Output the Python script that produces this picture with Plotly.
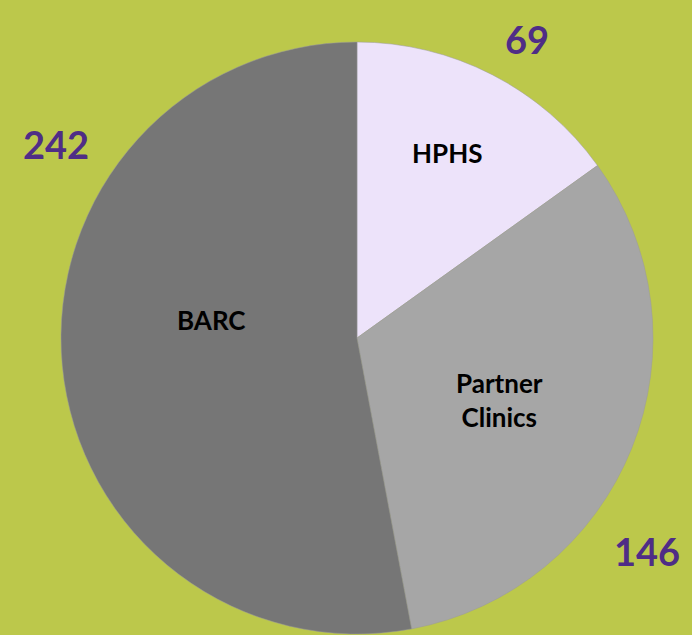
import plotly.graph_objects as go

labels = ["HPHS", "Partner Clinics", "BARC"]
display_labels = ["HPHS", "Partner<br>Clinics", "BARC"]
values = [69, 146, 242]
colors = ["#EDE3FA", "#A6A6A6", "#767676"]

W, H = 692, 635
cx, cy, R = 357, 338, 296

fig = go.Figure(go.Pie(
    labels=labels,
    values=values,
    sort=False,
    direction="clockwise",
    rotation=0,
    marker=dict(colors=colors, line=dict(color="#9a9a9a", width=0.5)),
    textinfo="none",
    hoverinfo="label+value",
    showlegend=False,
    domain=dict(x=[(cx - R) / W, (cx + R) / W], y=[1 - (cy + R) / H, 1 - (cy - R) / H]),
))

# label positions (pixels) for inside labels and value labels
inside_pos = [(447, 153), (499, 400), (211, 320)]
value_pos = [(527, 39), (647, 551), (56, 144)]

ann = []
for lab, (x, y) in zip(display_labels, inside_pos):
    ann.append(dict(x=x / W, y=1 - y / H, xref="paper", yref="paper", text=lab,
                    showarrow=False, align="center", xanchor="center", yanchor="middle",
                    font=dict(family="Lato", size=26, color="#000000", weight="bold")))
for v, (x, y) in zip(values, value_pos):
    ann.append(dict(x=x / W, y=1 - y / H, xref="paper", yref="paper", text=str(v),
                    showarrow=False, xanchor="center", yanchor="middle",
                    font=dict(family="Lato", size=38, color="#4F2D86", weight="bold")))

fig.update_layout(
    width=W, height=H,
    margin=dict(l=0, r=0, t=0, b=0),
    paper_bgcolor="#BCC84B",
    plot_bgcolor="#BCC84B",
    annotations=ann,
)

fig.write_html("out.html")
